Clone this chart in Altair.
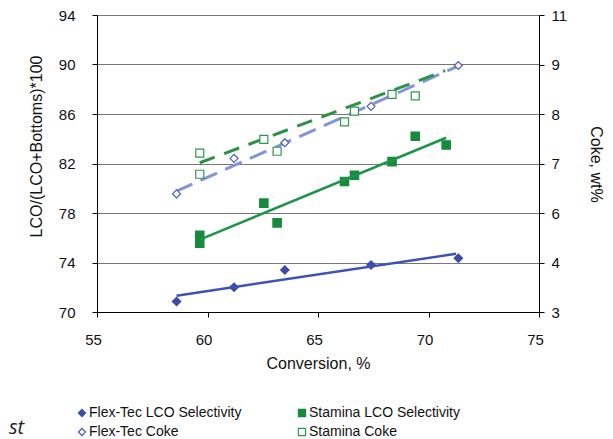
import altair as alt
import pandas as pd

# ---------------- data ----------------
series_names = ["Flex-Tec LCO Selectivity", "Flex-Tec Coke",
                "Stamina LCO Selectivity", "Stamina Coke"]

ft_conv = [58.6, 61.2, 63.5, 67.4, 71.35]
ft_lco = [70.85, 72.0, 73.4, 73.8, 74.35]
ft_coke = [6.18, 7.14, 7.56, 8.54, 9.64]

st_lco_conv = [59.65, 59.65, 62.55, 63.15, 66.2, 66.65, 68.35, 69.4, 70.8]
st_lco = [76.2, 75.55, 78.8, 77.2, 80.55, 81.05, 82.15, 84.2, 83.5]
st_coke_conv = [59.65, 59.65, 62.55, 63.15, 66.2, 66.65, 68.35, 69.4]
st_coke = [7.28, 6.71, 7.65, 7.33, 8.12, 8.41, 8.86, 8.82]

# trend line end points
ft_lco_trend_x = [58.6, 71.25]
ft_lco_trend_y = [71.32, 74.7]
st_lco_trend_x = [59.65, 70.8]
st_lco_trend_y = [75.85, 84.08]
ft_coke_trend_x = [58.57, 71.36]
ft_coke_trend_y = [6.25, 9.63]
st_coke_trend_x = [59.65, 70.75]
st_coke_trend_y = [7.02, 9.5]

x_ticks = [55, 60, 65, 70, 75]
left_ticks = [70, 74, 78, 82, 86, 90, 94]
right_ticks = [3, 13 / 3, 17 / 3, 7, 25 / 3, 29 / 3, 11]
right_labels = ["3", "4", "6", "7", "8", "9", "11"]
cut_text = ["st"]

# ---------------- frames ----------------
lco_df = pd.DataFrame({
    "conv": ft_conv + st_lco_conv,
    "value": ft_lco + st_lco,
    "series": [series_names[0]] * len(ft_conv) + [series_names[2]] * len(st_lco_conv),
})
coke_df = pd.DataFrame({
    "conv": ft_conv + st_coke_conv,
    "value": ft_coke + st_coke,
    "series": [series_names[1]] * len(ft_conv) + [series_names[3]] * len(st_coke_conv),
})

def trend(xs, ys):
    return pd.DataFrame({"conv": xs, "value": ys})

FONT = "Liberation Sans"
stroke_range = ["#3A4CA8", "#4C5DBB", "#178A3E", "#2F9650"]
fill_range = ["#3A4CA8", "#FFFFFF", "#178A3E", "#FFFFFF"]
shape_range = ["diamond", "diamond", "square", "square"]

legend = alt.Legend(orient="none", legendX=-22, legendY=391, columns=2,
                    columnPadding=53, rowPadding=5, symbolSize=50,
                    symbolStrokeWidth=1.2, labelFontSize=14, labelFont=FONT,
                    labelOffset=0, labelLimit=300, title=None, labelColor="#111")

x_enc = alt.X("conv:Q", scale=alt.Scale(domain=[55, 75], nice=False, zero=False),
              axis=alt.Axis(values=x_ticks, title="Conversion, %", grid=False,
                            labelOffset=-4, labelFlush=False, labelPadding=15,
                            titlePadding=8, format="d"))

yl_enc = alt.Y("value:Q", scale=alt.Scale(domain=[70, 94], nice=False, zero=False),
               axis=alt.Axis(values=left_ticks, title="LCO/(LCO+Bottoms)*100",
                             orient="left", grid=True, gridColor="#777777",
                             gridWidth=1.2, labelPadding=17, titleX=-61,
                             titleY=131, titleAlign="center",
                             titleBaseline="middle", titleAngle=270, format="d"))

label_expr = " : ".join(
    f"round(datum.value*3) == {round(v * 3)} ? '{l}'" for v, l in zip(right_ticks, right_labels)
) + " : ''"

yr_enc = alt.Y("value:Q", scale=alt.Scale(domain=[3, 11], nice=False, zero=False),
               axis=alt.Axis(values=right_ticks, title="Coke, wt%", orient="right",
                             grid=False, labelPadding=7, labelExpr=label_expr,
                             titleX=56, titleY=149, titleAlign="center",
                             titleBaseline="middle", titleAngle=90))

ser_stroke = alt.Stroke("series:N", scale=alt.Scale(domain=series_names, range=stroke_range), legend=legend)
ser_fill = alt.Fill("series:N", scale=alt.Scale(domain=series_names, range=fill_range), legend=legend)
ser_shape = alt.Shape("series:N", scale=alt.Scale(domain=series_names, range=shape_range), legend=legend)

lco_points = alt.Chart(lco_df).mark_point(size=70, strokeWidth=1.2, opacity=1).encode(
    x=x_enc, y=yl_enc, stroke=ser_stroke, fill=ser_fill, shape=ser_shape)

ft_lco_line = alt.Chart(trend(ft_lco_trend_x, ft_lco_trend_y)).mark_line(
    color="#3E52B5", strokeWidth=2.5).encode(x=x_enc, y=yl_enc)
st_lco_line = alt.Chart(trend(st_lco_trend_x, st_lco_trend_y)).mark_line(
    color="#1E9447", strokeWidth=2.5).encode(x=x_enc, y=yl_enc)

cut = alt.Chart(pd.DataFrame({"t": cut_text})).mark_text(
    font="Open Sans", fontStyle="italic", fontSize=20, align="left",
    baseline="alphabetic", color="#222").encode(
    x=alt.value(-88), y=alt.value(419), text="t:N")

coke_points = alt.Chart(coke_df).mark_point(size=64, strokeWidth=1.2, opacity=1).encode(
    x=x_enc, y=yr_enc, stroke=ser_stroke, fill=ser_fill, shape=ser_shape)

ft_coke_line = alt.Chart(trend(ft_coke_trend_x, ft_coke_trend_y)).mark_line(
    color="#8494D8", strokeWidth=3, strokeDash=[18, 9]).encode(x=x_enc, y=yr_enc)
st_coke_line = alt.Chart(trend(st_coke_trend_x, st_coke_trend_y)).mark_line(
    color="#2E9148", strokeWidth=3, strokeDash=[16, 10]).encode(x=x_enc, y=yr_enc)

left = alt.layer(lco_points, ft_lco_line, st_lco_line, cut)
right = alt.layer(ft_coke_line, st_coke_line, coke_points)

chart = alt.layer(left, right).resolve_scale(y="independent").properties(
    width=442, height=297,
    padding={"left": 89, "top": 7, "right": 66, "bottom": 127},
    autosize=alt.AutoSizeParams(type="none"),
).configure_view(stroke=None).configure_axis(
    domainColor="#000", domainWidth=1, tickColor="#000", tickSize=5,
    labelFont=FONT, labelFontSize=15, labelColor="#111",
    titleFont=FONT, titleFontSize=16, titleFontWeight="normal", titleColor="#111",
)

chart.save("out.html", embed_options={"renderer": "svg", "actions": False})
